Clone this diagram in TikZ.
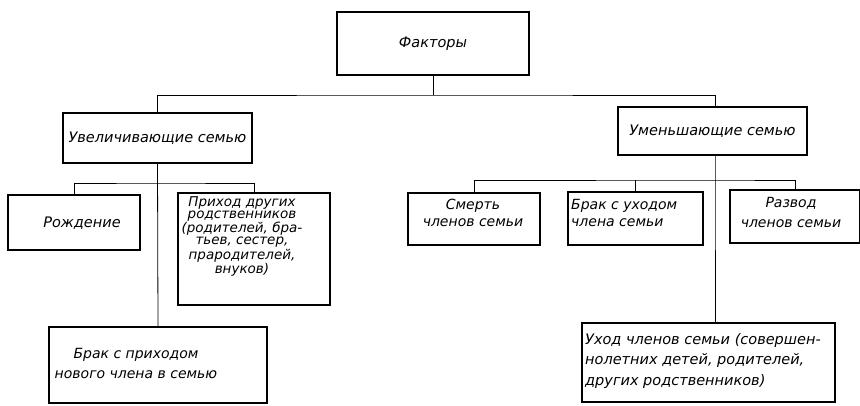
\documentclass[tikz,border=0pt]{standalone}
\usepackage{fontspec}
\newfontfamily\gost{DejaVu Sans}
\begin{document}
\begin{tikzpicture}[x=1pt,y=-1pt,
  every node/.style={font=\gost\itshape\fontsize{14.5}{16}\selectfont},
  box/.style={draw, line width=1.2pt, rectangle, inner sep=0pt},
  txt/.style={inner sep=0pt},
  link/.style={line width=0.8pt}]
\useasboundingbox (0,0) rectangle (860,405);

% boxes
\node[box, minimum width=192, minimum height=63] (fak) at (433,43.5) {Факторы};
\node[box, minimum width=189, minimum height=50] (uvel) at (157.5,138) {Увеличивающие семью};
\node[box, minimum width=189, minimum height=48] (umen) at (712.5,131) {Уменьшающие семью};

\node[box, minimum width=132, minimum height=55] (rozh) at (74,222.5) {};
\node[txt] (rozhT) at (82,223) {Рождение};

\node[box, minimum width=152, minimum height=112] (prih) at (254,249) {};
\node[txt, align=center, anchor=north, font=\gost\itshape\fontsize{13.5}{12.3}\selectfont] (prihT) at (242,196)
  {Приход других\\родственников\\(родителей, бра-\\тьев, сестер,\\прародителей,\\внуков)};

\node[box, minimum width=218, minimum height=76] (brakp) at (158,365) {};
\node[txt, align=center, font=\gost\itshape\fontsize{14}{20}\selectfont] (brakpT) at (136,363)
  {Брак с приходом\\нового члена в семью};

\node[box, minimum width=132, minimum height=52] (smert) at (474,219) {};
\node[txt, align=center, font=\gost\itshape\fontsize{14}{17}\selectfont] (smertT) at (473,213)
  {Смерть\\членов семьи};

\node[box, minimum width=135, minimum height=53] (braku) at (635.5,218.5) {};
\node[txt, align=left, anchor=west, font=\gost\itshape\fontsize{14}{17}\selectfont] (brakuT) at (571,213)
  {Брак с уходом\\члена семьи};

\node[box, minimum width=130, minimum height=53] (razv) at (795,216.5) {};
\node[txt, align=center, font=\gost\itshape\fontsize{14}{20}\selectfont] (razvT) at (791,212)
  {Развод\\членов семьи};

\node[box, minimum width=253, minimum height=79] (uhod) at (708.5,362.5) {};
\node[txt, align=left, anchor=west, font=\gost\itshape\fontsize{14.5}{21}\selectfont] (uhodT) at (585,361)
  {Уход членов семьи (совершен-\\нолетних детей, родителей,\\других родственников)};

% connectors
\coordinate (busT) at (433,95);
\coordinate (busL) at (157.5,183);
\coordinate (busR) at (715,180);
\draw[link] (fak.south) -- (busT);
\draw[link] (uvel.north) |- (busT) -| ([xshift=2.5]umen.north);
\draw[link] (uvel.south) -- (brakp.north);
\draw[link] (rozh.north) |- (busL) -| (prih.north);
\draw[link] ([xshift=2.5]umen.south) -- (busR) -- (busR |- uhod.north);
\draw[link] (smert.north) |- (busR) -| (razv.north);
\draw[link] (braku.north) -- (braku.north |- busR);
\end{tikzpicture}
\end{document}
